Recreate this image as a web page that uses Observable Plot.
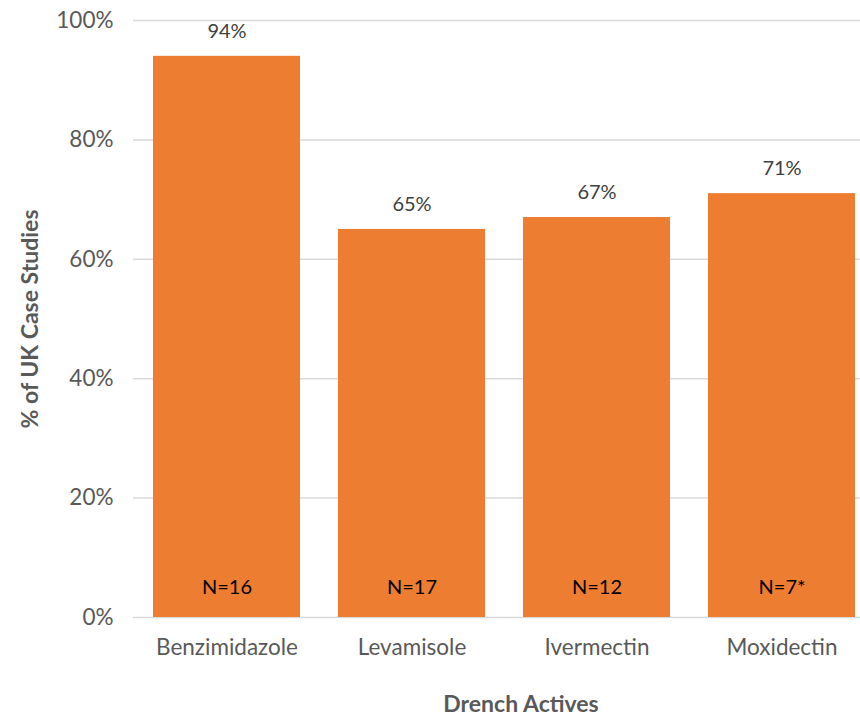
<!DOCTYPE html>
<html><head><meta charset="utf-8">
<script src="https://cdn.jsdelivr.net/npm/d3@7"></script>
<script src="https://cdn.jsdelivr.net/npm/@observablehq/plot@0.6"></script>
<style>body{margin:0;background:#fff}</style>
</head><body><div id="chart"></div>
<script>
const categories = ["Benzimidazole", "Levamisole", "Ivermectin", "Moxidectin"];
const percents = [94, 65, 67, 71];
const nLabels = ["N=16", "N=17", "N=12", "N=7*"];
const yTicks = [0, 20, 40, 60, 80, 100];

const data = categories.map((c, i) => ({cat: c, v: percents[i], n: nLabels[i]}));
const font = "Lato, 'Open Sans', sans-serif";

const chart = Plot.plot({
  width: 860, height: 715,
  marginLeft: 133, marginRight: 0, marginTop: 20, marginBottom: 98,
  style: {fontFamily: font, background: "#fff"},
  x: {domain: categories, range: [133, 875], paddingInner: 0.205, paddingOuter: 0.1025, label: null},
  y: {domain: [0, 100], range: [617, 20], label: null},
  marks: [
    Plot.ruleY(yTicks, {stroke: "#d9d9d9", strokeWidth: 1.5}),
    Plot.barY(data, {x: "cat", y: "v", fill: "#ED7D31"}),
    Plot.axisY(yTicks, {tickSize: 0, tickPadding: 20, tickFormat: d => d + "%", fontSize: 22.5, fill: "#595959", label: null}),
    Plot.axisX({tickSize: 0, tickPadding: 22, fontSize: 22.5, fill: "#595959", label: null}),
    Plot.text(data, {x: "cat", y: "v", text: d => d.v + "%", dy: -25, fontSize: 20, fill: "#404040"}),
    Plot.text(data, {x: "cat", y: 0, text: "n", dy: -30, fontSize: 20, fill: "#000"}),
    Plot.text(["Drench Actives"], {frameAnchor: "bottom", dx: 24, dy: 94, text: d => d, fontSize: 23, fontWeight: "bold", fill: "#595959"}),
    Plot.text(["% of UK Case Studies"], {frameAnchor: "left", textAnchor: "middle", dx: -103, text: d => d, rotate: -90, fontSize: 23, fontWeight: "bold", fill: "#595959"})
  ]
});
document.getElementById("chart").appendChild(chart);
</script></body></html>
